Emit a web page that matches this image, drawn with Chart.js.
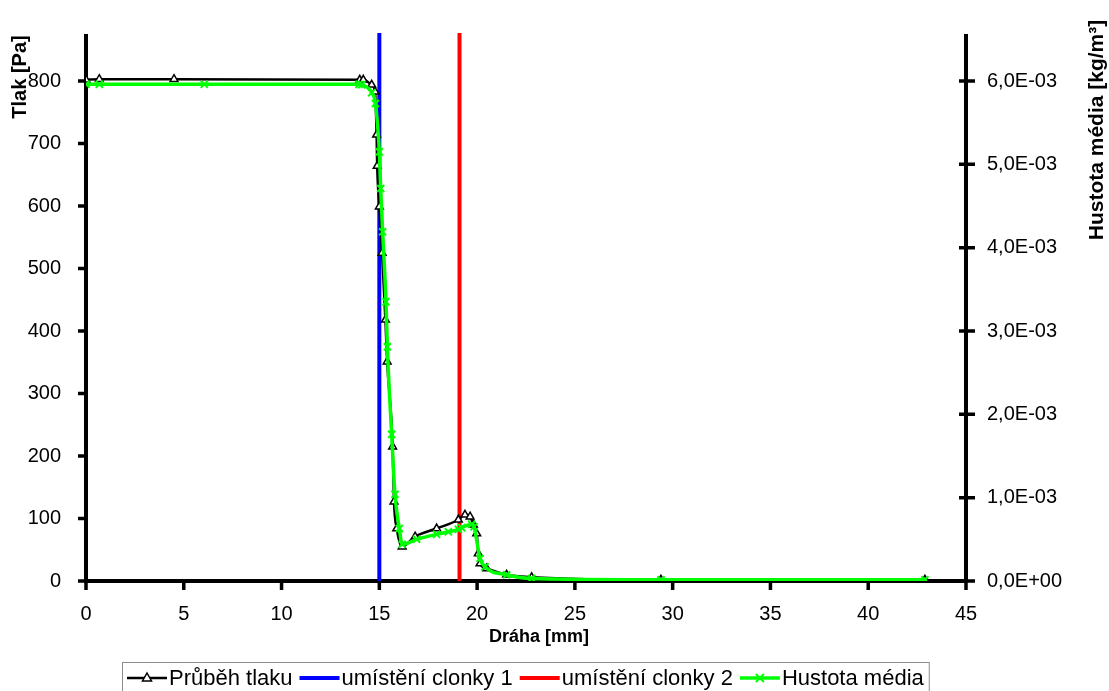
<!DOCTYPE html>
<html>
<head>
<meta charset="utf-8">
<script src="https://cdn.jsdelivr.net/npm/chart.js@4/dist/chart.umd.min.js"></script>
<style>
  html, body { margin: 0; padding: 0; background: #fff; }
  #wrap { width: 1109px; height: 691px; }
</style>
</head>
<body>
<div id="wrap"><canvas id="js--chart"></canvas></div>
<script>
// Dráha [mm] / Tlak [Pa]
const tlakX = [0, 0.68, 4.5, 14.0, 14.18, 14.61, 14.78, 14.86, 14.89, 15.0, 15.14, 15.31, 15.40, 15.68, 15.75, 15.89, 16.17, 16.83, 17.93, 19.04, 19.38, 19.64, 19.81, 19.98, 20.06, 20.15, 20.49, 21.51, 22.79, 29.4, 42.9]
const tlakY = [802, 803, 803, 802, 802, 794, 783, 714, 664, 599, 525, 418, 351, 215, 127, 84, 55, 71, 84, 98, 106, 103, 90, 76, 44, 28, 20, 10, 6, 2, 2]

// Dráha [mm] / Hustota média [kg/m3]
const hustotaX = [0, 0.68, 6.05, 13.96, 14.1, 14.61, 14.8, 15.0, 15.07, 15.17, 15.34, 15.41, 15.63, 15.8, 16.02, 16.17, 16.91, 17.93, 18.53, 19.04, 19.21, 19.72, 19.84, 20.15, 20.40, 21.51, 22.79, 29.4, 42.9]
const hustotaY = [5.96e-3, 5.96e-3, 5.96e-3, 5.96e-3, 5.955e-3, 5.86e-3, 5.73e-3, 5.15e-3, 4.71e-3, 4.19e-3, 3.35e-3, 2.81e-3, 1.76e-3, 1.04e-3, 0.63e-3, 0.44e-3, 0.50e-3, 0.56e-3, 0.59e-3, 0.62e-3, 0.64e-3, 0.68e-3, 0.65e-3, 0.27e-3, 0.17e-3, 0.075e-3, 0.03e-3, 0.015e-3, 0.015e-3]

// umístění clonek
const clonka1X = 15
const clonka2X = 19.1
const clonkaY = [0, 877]

const xTicks = [0, 5, 10, 15, 20, 25, 30, 35, 40, 45]
const yTicks = [0, 100, 200, 300, 400, 500, 600, 700, 800]
const y1Ticks = [0, 0.001, 0.002, 0.003, 0.004, 0.005, 0.006]

const FONT = "'Liberation Sans', Arial, sans-serif"

const toPoints = (xs, ys) => xs.map((x, i) => ({ x: x, y: ys[i] }))

const sci = (v) => {
    if (v === 0) return "0,0E+00"
    const e = Math.floor(Math.log10(v) + 1e-9)
    const m = v / Math.pow(10, e)
    return m.toFixed(1).replace(".", ",") + "E" + (e < 0 ? "-" : "+") + String(Math.abs(e)).padStart(2, "0")
}

const data = {
    datasets: [
        {
            label: "Průběh tlaku",
            data: toPoints(tlakX, tlakY),
            yAxisID: "y",
            borderColor: "#000000",
            borderWidth: 2.5,
            pointStyle: "triangle",
            pointRadius: 4.5,
            pointBackgroundColor: "#ffffff",
            pointBorderColor: "#000000",
            pointBorderWidth: 1.5,
            cubicInterpolationMode: "monotone",
            order: 2,
        },
        {
            label: "umístění clonky 1",
            data: toPoints([clonka1X, clonka1X], clonkaY),
            yAxisID: "y",
            borderColor: "#0000ff",
            borderWidth: 4,
            pointRadius: 0,
            clip: false,
            order: 3,
        },
        {
            label: "umístění clonky 2",
            data: toPoints([clonka2X, clonka2X], clonkaY),
            yAxisID: "y",
            borderColor: "#ff0000",
            borderWidth: 4,
            pointRadius: 0,
            clip: false,
            order: 3,
        },
        {
            label: "Hustota média",
            data: toPoints(hustotaX, hustotaY),
            yAxisID: "y1",
            borderColor: "#00ff00",
            borderWidth: 3.5,
            pointStyle: "crossRot",
            pointRadius: 5,
            pointBorderColor: "#00ff00",
            pointBorderWidth: 2,
            cubicInterpolationMode: "monotone",
            order: 1,
        },
    ]
}

// znacky os, popisky os a legenda s rameckem
const extras = {
    id: "extras",
    afterDraw(chart) {
        const ctx = chart.ctx
        const area = chart.chartArea
        ctx.save()
        ctx.strokeStyle = "#000"
        ctx.lineWidth = 3.5
        ctx.beginPath()
        const sy = chart.scales.y
        sy.ticks.forEach(t => {
            const py = sy.getPixelForValue(t.value)
            ctx.moveTo(area.left - 8, py)
            ctx.lineTo(area.left, py)
        })
        const sy1 = chart.scales.y1
        sy1.ticks.forEach(t => {
            const py = sy1.getPixelForValue(t.value)
            ctx.moveTo(area.right - 7, py)
            ctx.lineTo(area.right + 9, py)
        })
        const sx = chart.scales.x
        sx.ticks.forEach(t => {
            const px = sx.getPixelForValue(t.value)
            ctx.moveTo(px, area.bottom)
            ctx.lineTo(px, area.bottom + 9)
        })
        ctx.stroke()

        // popisky os
        ctx.fillStyle = "#000"
        ctx.textAlign = "center"
        ctx.textBaseline = "middle"
        ctx.font = "bold 18px " + FONT
        ctx.fillText("Dráha [mm]", 539, 637)

        ctx.save()
        ctx.font = "bold 20px " + FONT
        ctx.translate(20, 77)
        ctx.rotate(-Math.PI / 2)
        ctx.fillText("Tlak [Pa]", 0, 0)
        ctx.restore()

        ctx.save()
        ctx.font = "bold 21px " + FONT
        ctx.translate(1097, 130)
        ctx.rotate(-Math.PI / 2)
        ctx.fillText("Hustota média [kg/m³]", 0, 0)
        ctx.restore()

        // legenda
        const ly = 678
        ctx.font = "22px " + FONT
        ctx.textAlign = "left"
        let x = 127
        const boxLeft = 122
        chart.data.datasets.forEach(ds => {
            ctx.strokeStyle = ds.borderColor
            ctx.lineWidth = ds.borderWidth
            ctx.beginPath()
            ctx.moveTo(x, ly)
            ctx.lineTo(x + 40, ly)
            ctx.stroke()
            const mx = x + 20
            if (ds.pointStyle === "triangle") {
                ctx.fillStyle = "#fff"
                ctx.strokeStyle = "#000"
                ctx.lineWidth = 1.5
                ctx.beginPath()
                ctx.moveTo(mx, ly - 5)
                ctx.lineTo(mx + 4.5, ly + 3)
                ctx.lineTo(mx - 4.5, ly + 3)
                ctx.closePath()
                ctx.fill()
                ctx.stroke()
            } else if (ds.pointStyle === "crossRot") {
                ctx.strokeStyle = ds.borderColor
                ctx.lineWidth = 2
                ctx.beginPath()
                ctx.moveTo(mx - 4, ly - 4)
                ctx.lineTo(mx + 4, ly + 4)
                ctx.moveTo(mx + 4, ly - 4)
                ctx.lineTo(mx - 4, ly + 4)
                ctx.stroke()
            }
            ctx.fillStyle = "#000"
            ctx.fillText(ds.label, x + 42, ly + 1)
            x += 42 + ctx.measureText(ds.label).width + 7
        })
        ctx.strokeStyle = "#8c8c8c"
        ctx.lineWidth = 1
        ctx.strokeRect(boxLeft + 0.5, 662.5, x - boxLeft - 2, 30)
        ctx.restore()
    }
}

const config = {
    type: "line",
    data: data,
    options: {
        responsive: true,
        maintainAspectRatio: false,
        animation: false,
        layout: { padding: { top: 36, left: 0, right: 0, bottom: 0 } },
        plugins: {
            legend: { display: false },
            tooltip: { enabled: false },
        },
        scales: {
            x: {
                type: "linear",
                min: 0,
                max: 45,
                afterBuildTicks: (s) => { s.ticks = xTicks.map(v => ({ value: v })) },
                afterFit: (s) => { s.height = 110 },
                grid: { display: false },
                border: { display: true, color: "#000", width: 4 },
                ticks: { color: "#000", font: { family: FONT, size: 20 }, padding: 13, maxRotation: 0 },
            },
            y: {
                position: "left",
                min: 0,
                max: 872,
                afterBuildTicks: (s) => { s.ticks = yTicks.map(v => ({ value: v })) },
                afterFit: (s) => { s.width = 86 },
                grid: { display: false },
                border: { display: true, color: "#000", width: 4 },
                ticks: { color: "#000", font: { family: FONT, size: 20 }, padding: 17 },
            },
            y1: {
                position: "right",
                min: 0,
                max: 0.00654,
                afterBuildTicks: (s) => { s.ticks = y1Ticks.map(v => ({ value: v })) },
                afterFit: (s) => { s.width = 143 },
                grid: { display: false },
                border: { display: true, color: "#000", width: 4 },
                ticks: { color: "#000", font: { family: FONT, size: 20 }, padding: 13, callback: (v) => sci(v) },
            },
        },
    },
    plugins: [extras],
}

new Chart(document.getElementById("js--chart"), config)
</script>
</body>
</html>
